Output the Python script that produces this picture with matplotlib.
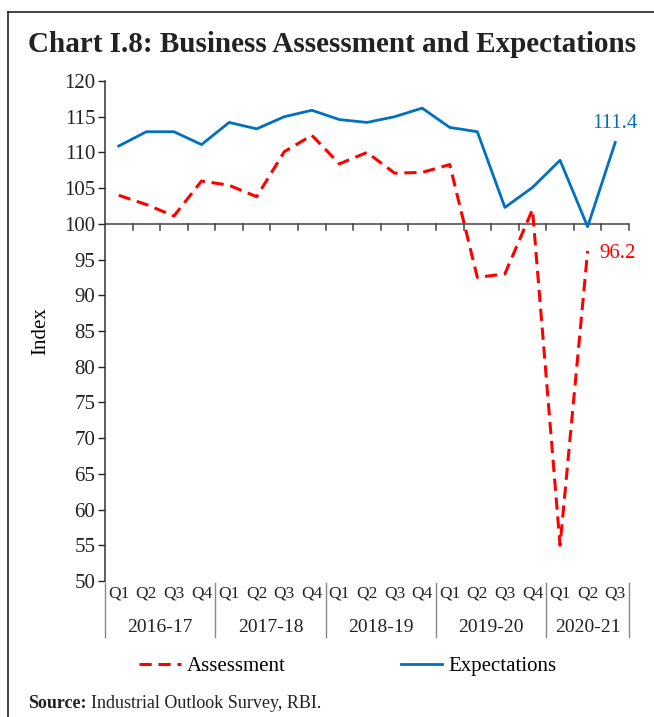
import matplotlib
matplotlib.use('Agg')
import matplotlib.pyplot as plt
import matplotlib.transforms as mtransforms
from matplotlib.lines import Line2D

plt.rcParams['font.family'] = ['Liberation Serif', 'DejaVu Serif']

# data
years = ['2016-17', '2017-18', '2018-19', '2019-20', '2020-21']
quarters = ['Q1', 'Q2', 'Q3', 'Q4'] * 4 + ['Q1', 'Q2', 'Q3']
assessment = [104.0, 102.7, 101.1, 106.0, 105.4, 103.8, 110.1, 112.4, 108.4, 110.0,
              107.1, 107.2, 108.3, 92.5, 93.0, 102.0, 55.0, 96.2]
expectations = [110.9, 112.9, 112.9, 111.1, 114.2, 113.3, 115.0, 115.9, 114.6, 114.2,
                115.0, 116.2, 113.5, 112.9, 102.3, 105.1, 108.9, 99.6, 111.4]
year_bounds = [0, 4, 8, 12, 16, 19]

W, H = 654, 717
fig = plt.figure(figsize=(W / 100, H / 100), dpi=100)
ax = fig.add_axes([105 / W, (H - 581) / H, 524 / W, 500 / H])

red = '#FF0000'
blue = '#0070C0'
xa = [i + 0.5 for i in range(len(assessment))]
xe = [i + 0.5 for i in range(len(expectations))]
ax.plot(xa, assessment, color=red, lw=2.2, dashes=(4, 2.2), label='Assessment')
ax.plot(xe, expectations, color=blue, lw=2.0, label='Expectations')

ax.set_xlim(0, 19)
ax.set_ylim(50, 120)
ax.set_yticks(range(50, 121, 5))
ax.tick_params(axis='y', labelsize=15, length=5, width=1, colors='#222222', pad=2)
ax.set_xticks([])
for s in ['top', 'right', 'bottom']:
    ax.spines[s].set_visible(False)
ax.spines['left'].set_color('#333333')
ax.spines['left'].set_linewidth(1.1)

# x axis line at 100 with tick marks
ax.axhline(100, color='#444444', lw=1.1, zorder=1)
px = 7.14  # pixels per unit on y
for b in range(1, 20):
    ax.plot([b, b], [100, 100 - 6 / px], color='#444444', lw=1.1, zorder=1, clip_on=False)

ax.set_ylabel('Index', fontsize=15, labelpad=10)

trans = mtransforms.blended_transform_factory(ax.transData, ax.transAxes)
for i, q in enumerate(quarters):
    ax.text(i + 0.5, -12 / 500, q, transform=trans, ha='center', va='center',
            fontsize=12.5, color='#222222')
for j, y in enumerate(years):
    c = (year_bounds[j] + year_bounds[j + 1]) / 2
    ax.text(c, -47 / 500, y, transform=trans, ha='center', va='center',
            fontsize=14, color='#222222')
for b in year_bounds:
    ax.plot([b, b], [-2 / 500, -56 / 500], transform=trans, color='#888888',
            lw=1, clip_on=False)

ax.text(xe[-1], expectations[-1] + 2.6, '111.4', color=blue, fontsize=15,
        ha='center', va='center')
ax.text(xa[-1] + 1.1, assessment[-1] - 0.3, '96.2', color=red, fontsize=15,
        ha='center', va='center')

# legend
handles = [Line2D([0], [0], color=red, lw=2.2, dashes=(4, 2.2)),
           Line2D([0], [0], color=blue, lw=2.0)]
fig.legend(handles, ['Assessment', 'Expectations'], loc='center',
           bbox_to_anchor=(348 / W, 1 - 666 / H), ncol=2, frameon=False,
           fontsize=15, handlelength=2.0, handletextpad=0.3, columnspacing=5.5)

fig.text(28 / W, 1 - 45 / H, 'Chart I.8: Business Assessment and Expectations',
         fontsize=21, fontweight='bold', ha='left', va='center', color='#222222')
fig.text(28 / W, 1 - 703 / H, 'Source:', fontsize=13, fontweight='bold',
         ha='left', va='center', color='#222222')
fig.text(91 / W, 1 - 703 / H, 'Industrial Outlook Survey, RBI.', fontsize=13,
         ha='left', va='center', color='#222222')

# frame lines
fig.add_artist(Line2D([8 / W, 1], [1 - 12 / H, 1 - 12 / H], color='#222222', lw=1.2))
fig.add_artist(Line2D([8 / W, 8 / W], [0, 1 - 12 / H], color='#222222', lw=1.2))

fig.savefig('out.png', dpi=100)
